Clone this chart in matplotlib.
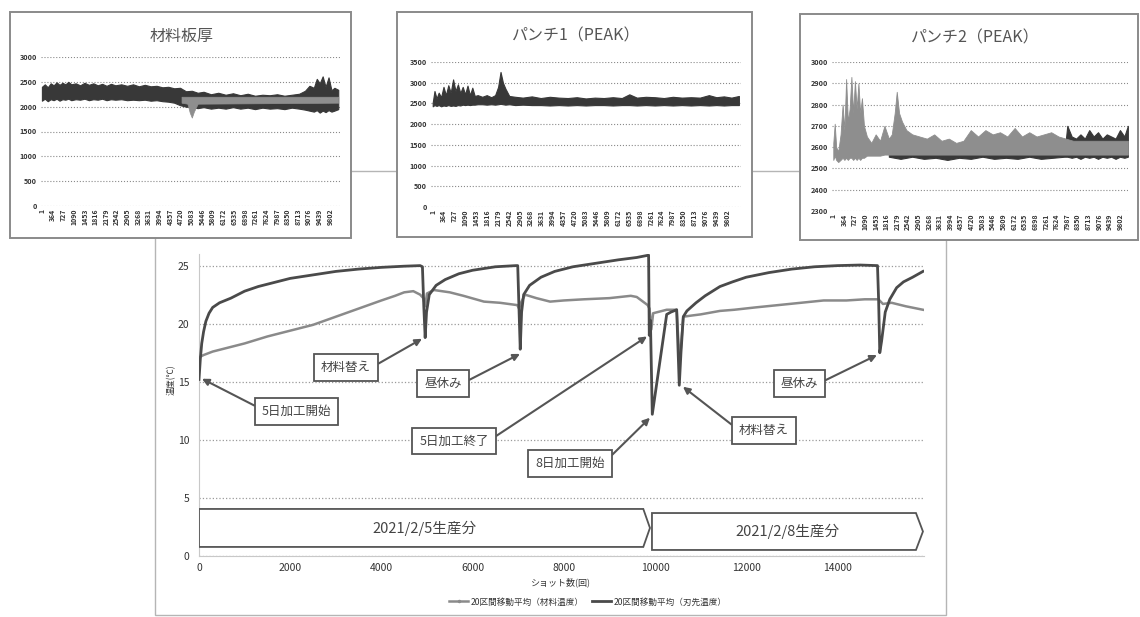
import matplotlib
matplotlib.use('Agg')
import matplotlib.pyplot as plt
from matplotlib.patches import Rectangle, Polygon
from matplotlib.lines import Line2D

plt.rcParams['font.family'] = ['Noto Sans CJK JP', 'DejaVu Sans']

# ---------------- data: small charts ----------------
cat_ticks = list(range(1, 9803, 363))
cat_labels = [str(v) for v in cat_ticks]

thick_x = [1, 100, 200, 300, 400, 500, 600, 700, 800, 900,
           1000, 1150, 1300, 1450, 1600, 1750, 1900, 2050, 2200, 2350,
           2500, 2700, 2900, 3100, 3300, 3500, 3700, 3900, 4100, 4300,
           4500, 4700, 4900, 5100, 5300, 5500, 5750, 6000, 6250, 6500,
           6750, 7000, 7250, 7500, 7750, 8000, 8250, 8500, 8750, 8950,
           9100, 9250, 9350, 9450, 9550, 9650, 9750, 9850, 9950, 10080]
thick_hi = [2400, 2450, 2390, 2470, 2430, 2490, 2440, 2480, 2450, 2500,
            2450, 2470, 2430, 2480, 2440, 2470, 2430, 2460, 2420, 2460,
            2430, 2450, 2420, 2450, 2410, 2440, 2410, 2420, 2390, 2400,
            2370, 2380, 2310, 2320, 2280, 2300, 2250, 2280, 2240, 2270,
            2230, 2260, 2220, 2240, 2230, 2250, 2220, 2240, 2260, 2320,
            2420, 2380, 2560, 2470, 2610, 2400, 2590, 2330, 2380, 2340]
thick_lo = [2120, 2160, 2110, 2150, 2130, 2160, 2120, 2150, 2140, 2160,
            2130, 2150, 2140, 2160, 2130, 2150, 2140, 2160, 2130, 2150,
            2140, 2150, 2130, 2140, 2130, 2140, 2120, 2130, 2110, 2100,
            2080, 2030, 2000, 1990, 1970, 1990, 1960, 1980, 1960, 1990,
            1960, 1980, 1950, 1980, 1960, 1970, 1950, 1980, 1960, 1940,
            1920, 1900, 1930, 1880, 1920, 1890, 1930, 1900, 1920, 1950]
thick_band_x = [4750, 4950, 5030, 5100, 5170, 5300, 10080]
thick_band_hi = [2200, 2200, 2200, 2200, 2200, 2200, 2200]
thick_band_lo = [2080, 2060, 1880, 1780, 1900, 2060, 2080]

p1_x = [1, 60, 130, 200, 280, 360, 440, 520, 600, 680,
        760, 840, 920, 1000, 1080, 1160, 1240, 1320, 1400, 1500,
        1650, 1800, 1950, 2080, 2180, 2260, 2340, 2420, 2550, 2750,
        3000, 3300, 3600, 3900, 4200, 4500, 4800, 5100, 5400, 5700,
        6000, 6300, 6550, 6800, 7100, 7400, 7700, 8000, 8300, 8600,
        8900, 9200, 9450, 9700, 9950, 10200]
p1_hi = [2520, 2800, 2620, 2760, 2650, 2900, 2700, 2940, 2760, 3080,
         2800, 2960, 2750, 2900, 2720, 2930, 2700, 2880, 2680, 2700,
         2660, 2700, 2650, 2700, 2900, 3260, 3000, 2860, 2680, 2660,
         2640, 2670, 2630, 2660, 2640, 2630, 2650, 2620, 2640, 2630,
         2650, 2630, 2720, 2640, 2660, 2650, 2630, 2660, 2640, 2650,
         2640, 2700, 2650, 2670, 2640, 2680]
p1_lo = [2430, 2460, 2440, 2460, 2430, 2450, 2440, 2460, 2440, 2450,
         2440, 2460, 2450, 2470, 2460, 2470, 2460, 2470, 2470, 2480,
         2480, 2470, 2480, 2470, 2480, 2490, 2480, 2470, 2480, 2460,
         2470, 2460, 2460, 2450, 2460, 2450, 2460, 2450, 2460, 2460,
         2450, 2460, 2460, 2450, 2460, 2450, 2460, 2450, 2460, 2450,
         2460, 2450, 2460, 2450, 2460, 2460]

p2_x = [1, 50, 100, 170, 250, 320, 380, 440, 500, 560,
        620, 680, 740, 800, 860, 920, 980, 1050, 1150, 1300,
        1450, 1600, 1750, 1900, 2000, 2100, 2170, 2250, 2350, 2500,
        2700, 2950, 3200, 3450, 3700, 3950, 4200, 4450, 4700, 4950,
        5200, 5450, 5700, 5950, 6200, 6450, 6700, 6950, 7200, 7450,
        7700, 7950, 8200, 8500, 8800, 9100, 9400, 9700, 10000, 10070]
p2_hi = [2620, 2710, 2600, 2580, 2660, 2800, 2680, 2920, 2720, 2780,
         2930, 2760, 2910, 2780, 2900, 2760, 2830, 2700, 2650, 2620,
         2660, 2630, 2700, 2640, 2660, 2760, 2860, 2760, 2720, 2680,
         2660, 2650, 2640, 2660, 2630, 2640, 2620, 2630, 2680, 2650,
         2680, 2660, 2670, 2650, 2690, 2650, 2670, 2650, 2660, 2670,
         2650, 2640, 2630, 2630, 2630, 2630, 2630, 2630, 2630, 2630]
p2_lo = [2540, 2560, 2540, 2530, 2540, 2550, 2540, 2550, 2540, 2550,
         2550, 2540, 2550, 2540, 2550, 2540, 2550, 2550, 2560, 2560,
         2560, 2560, 2565, 2565, 2565, 2565, 2565, 2565, 2565, 2565,
         2565, 2565, 2565, 2565, 2565, 2565, 2565, 2565, 2565, 2565,
         2565, 2565, 2565, 2565, 2565, 2565, 2565, 2565, 2565, 2565,
         2565, 2565, 2565, 2565, 2565, 2565, 2565, 2565, 2565, 2565]
p2d_x = [1900, 2300, 2700, 3100, 3500, 3900, 4300, 4700, 5100, 5500,
         5900, 6300, 6700, 7100, 7500, 7900, 8000, 8150, 8300, 8450,
         8600, 8750, 8900, 9050, 9200, 9350, 9500, 9650, 9800, 9950, 10070]
p2d_hi = [2570, 2570, 2570, 2570, 2570, 2570, 2570, 2570, 2570, 2570,
          2570, 2570, 2570, 2570, 2570, 2570, 2700, 2650, 2640, 2660,
          2640, 2680, 2650, 2670, 2640, 2660, 2650, 2640, 2680, 2650, 2700]
p2d_lo = [2555, 2545, 2555, 2545, 2550, 2540, 2550, 2545, 2555, 2545,
          2550, 2545, 2555, 2545, 2550, 2555, 2555, 2550, 2555, 2545,
          2555, 2550, 2555, 2545, 2555, 2550, 2555, 2545, 2555, 2550, 2555]

# ---------------- data: main chart ----------------
tip_x = [0, 30, 60, 100, 150, 220, 300, 450, 700, 1000,
         1300, 1600, 2000, 2500, 3000, 3500, 4000, 4500, 4850, 4900,
         4930, 4960, 4990, 5050, 5200, 5400, 5700, 6000, 6500, 6950,
         6990, 7020, 7045, 7075, 7120, 7250, 7500, 7800, 8200, 8700,
         9200, 9600, 9860, 9875, 9900, 9941, 10257, 10350, 10476, 10533,
         10570, 10621, 10700, 10900, 11100, 11425, 11700, 12000, 12500, 13000,
         13500, 14000, 14500, 14880, 14905, 14930, 14970, 15050, 15150, 15300,
         15450, 15650, 15877]
tip_y = [15.2, 17.0, 18.3, 19.3, 20.2, 20.9, 21.4, 21.8, 22.2, 22.8,
         23.2, 23.5, 23.9, 24.2, 24.5, 24.7, 24.85, 24.95, 25.0, 24.9,
         21.5, 18.8, 21.0, 22.5, 23.3, 23.8, 24.3, 24.6, 24.9, 25.0,
         25.0, 21.0, 17.8, 21.0, 22.5, 23.3, 24.0, 24.5, 24.9, 25.2,
         25.5, 25.7, 25.9, 19.0, 20.3, 12.2, 20.8, 21.0, 21.2, 14.7,
         17.5, 20.6, 21.1, 21.8, 22.4, 23.2, 23.6, 24.0, 24.4, 24.7,
         24.9, 25.0, 25.05, 25.0, 22.0, 17.5, 18.5, 21.0, 22.1, 23.1,
         23.6, 24.0, 24.5]
mat_x = [0, 100, 300, 600, 1000, 1500, 2000, 2500, 3000, 3500,
         4000, 4300, 4500, 4700, 4850, 4920, 4960, 5000, 5150, 5500,
         5800, 6250, 6600, 6980, 7020, 7060, 7150, 7400, 7700, 8000,
         8440, 9000, 9470, 9600, 9840, 9880, 9920, 9960, 10257, 10476,
         10520, 10560, 10621, 10800, 11000, 11425, 11740, 12200, 12700, 13200,
         13700, 14200, 14600, 14900, 15000, 15190, 15500, 15877]
mat_y = [17.1, 17.3, 17.6, 17.9, 18.3, 18.9, 19.4, 19.9, 20.6, 21.3,
         22.0, 22.4, 22.7, 22.8, 22.5, 22.2, 21.5, 22.6, 22.9, 22.7,
         22.4, 21.9, 21.8, 21.6, 21.3, 21.8, 22.5, 22.2, 21.9, 22.0,
         22.1, 22.2, 22.4, 22.3, 21.6, 21.3, 19.5, 20.9, 21.2, 21.2,
         18.0, 17.5, 20.6, 20.7, 20.8, 21.1, 21.2, 21.4, 21.6, 21.8,
         22.0, 22.0, 22.1, 22.1, 21.7, 21.8, 21.5, 21.2]

x_ticks = [0, 2000, 4000, 6000, 8000, 10000, 12000, 14000]
y_ticks = [0, 5, 10, 15, 20, 25]
legend_labels = ['20区間移動平均（材料温度）', '20区間移動平均（刃先温度）']

note_texts = ['5日加工開始', '材料替え', '昼休み', '5日加工終了', '8日加工開始', '昼休み', '材料替え']
note_target_x = [66, 4890, 7039, 9825, 9890, 14868, 10614]
note_target_y = [15.26, 18.7, 17.4, 18.9, 11.9, 17.3, 14.57]
note_text_x = [2138, 3224, 5351, 5592, 8136, 13169, 12390]
note_text_y = [12.46, 16.2, 14.83, 9.91, 7.97, 14.83, 10.82]
note_relpos = [(0, 0.65), (1, 0.5), (1, 0.5), (1, 0.5), (1, 0.6), (1, 0.5), (0, 0.5)]

prod_labels = ['2021/2/5生産分', '2021/2/8生産分']
prod_start = [0, 9934]
prod_body_end = [9744, 15724]
prod_tip = [9890, 15877]
prod_low = [0.78, 0.52]
prod_high = [4.05, 3.7]

# ---------------- figure ----------------
W, H = 1140, 617
fig = plt.figure(figsize=(11.4, 6.17), dpi=100)


def rect(x0, y0, x1, y1):
    return [x0 / W, 1 - y1 / H, (x1 - x0) / W, (y1 - y0) / H]


def frame(x0, y0, x1, y1, ec, lw, z, fc='none'):
    fig.add_artist(Rectangle((x0 / W, 1 - y1 / H), (x1 - x0) / W, (y1 - y0) / H,
                             transform=fig.transFigure, fc=fc, ec=ec, lw=lw, zorder=z))


frame(155, 171, 946, 615, '#b5b5b5', 1.0, -3)
frame(10, 12, 351, 238, '#8a8a8a', 1.4, -2, 'white')
frame(397, 12, 752, 237, '#8a8a8a', 1.4, -2, 'white')
frame(800, 14, 1138, 240, '#8a8a8a', 1.4, -2, 'white')


def small_axes(px, xlim, ylim, yticks):
    ax = fig.add_axes(rect(*px))
    ax.set_facecolor('none')
    ax.set_xlim(*xlim)
    ax.set_ylim(*ylim)
    ax.set_yticks(yticks)
    ax.set_xticks(cat_ticks)
    ax.set_xticklabels(cat_labels, rotation=90, fontsize=5.0, fontweight='bold', color='#333')
    for lab in ax.get_yticklabels():
        lab.set_fontweight('bold')
    ax.tick_params(axis='y', labelsize=5.2, colors='#333', length=0, pad=3)
    ax.tick_params(axis='x', length=0, pad=2)
    ax.grid(axis='y', ls=':', color='#8a8a8a', lw=0.8)
    ax.set_axisbelow(True)
    for s in ax.spines.values():
        s.set_visible(False)
    return ax


dark = '#383838'
mid = '#8e8e8e'

ax1 = small_axes((41, 57, 340, 206), (-30, 10140), (0, 3000), list(range(0, 3001, 500)))
ax1.fill_between(thick_x, thick_lo, thick_hi, color=dark, lw=0.8)
ax1.fill_between(thick_band_x, thick_band_lo, thick_band_hi, color=mid, lw=0.5)
fig.text(182 / W, 1 - 36 / H, '材料板厚', fontsize=11.5, color='#555', ha='center', va='center')

ax2 = small_axes((431, 62, 741, 207), (-56, 10270), (0, 3500), list(range(0, 3501, 500)))
ax2.fill_between(p1_x, p1_lo, p1_hi, color=dark, lw=0.8)
fig.text(576 / W, 1 - 36 / H, 'パンチ1（PEAK）', fontsize=11.5, color='#555', ha='center', va='center')

ax3 = small_axes((832, 62, 1128, 211), (-43, 10075), (2300, 3000), list(range(2300, 3001, 100)))
ax3.fill_between(p2d_x, p2d_lo, p2d_hi, color=dark, lw=0.8)
ax3.fill_between(p2_x, p2_lo, p2_hi, color=mid, lw=0.6)
fig.text(975 / W, 1 - 38 / H, 'パンチ2（PEAK）', fontsize=11.5, color='#555', ha='center', va='center')

# ---------------- main chart ----------------
ax = fig.add_axes(rect(199, 254, 924, 556))
ax.set_xlim(0, 15900)
ax.set_ylim(0, 26)
ax.set_yticks(y_ticks)
ax.set_xticks(x_ticks)
ax.tick_params(length=0, labelsize=7.5, colors='#333')
ax.tick_params(axis='y', pad=7)
ax.tick_params(axis='x', pad=5)
ax.grid(axis='y', ls=':', color='#9a9a9a', lw=0.9)
ax.set_axisbelow(True)
for k, s in ax.spines.items():
    s.set_visible(k in ('bottom', 'left'))
    s.set_color('#c8c8c8')
    s.set_linewidth(0.8)

tip_color = '#4a4a4a'
mat_color = '#8a8a8a'
ax.plot(mat_x, mat_y, color=mat_color, lw=1.8, zorder=3)
ax.plot(tip_x, tip_y, color=tip_color, lw=2.0, zorder=4)

for i, lab in enumerate(prod_labels):
    poly = Polygon([(prod_start[i], prod_low[i]), (prod_body_end[i], prod_low[i]),
                    (prod_tip[i], (prod_low[i] + prod_high[i]) / 2),
                    (prod_body_end[i], prod_high[i]), (prod_start[i], prod_high[i])],
                   closed=True, fc='white', ec='#555', lw=1.3, zorder=5)
    ax.add_patch(poly)
    ax.text((prod_start[i] + prod_tip[i]) / 2, (prod_low[i] + prod_high[i]) / 2, lab,
            fontsize=10.5, color='#444', ha='center', va='center', zorder=6)

for i, t in enumerate(note_texts):
    ax.annotate(t, xy=(note_target_x[i], note_target_y[i]),
                xytext=(note_text_x[i], note_text_y[i]),
                fontsize=9, color='#444', ha='center', va='center', zorder=7,
                bbox=dict(boxstyle='square,pad=0.55', fc='white', ec='#555', lw=1.3),
                arrowprops=dict(arrowstyle='-|>', color='#555', lw=1.5,
                                relpos=note_relpos[i], shrinkA=0, shrinkB=0,
                                mutation_scale=10))

fig.text(171 / W, 1 - 380 / H, '温度(℃)', rotation=90, fontsize=6, color='#333',
         ha='center', va='center')
fig.text(560 / W, 1 - 582 / H, 'ショット数(回)', fontsize=6.5, color='#333',
         ha='center', va='center')

handles = [Line2D([], [], color=mat_color, lw=1.8, marker='.', markersize=3),
           Line2D([], [], color=tip_color, lw=2.0)]
fig.legend(handles, legend_labels, loc='center', bbox_to_anchor=(588 / W, 1 - 602 / H),
           ncol=2, frameon=False, fontsize=6.2, handlelength=2.2, columnspacing=1.0,
           handletextpad=0.3, labelcolor='#333')

fig.savefig('out.png', dpi=100, facecolor='white')
